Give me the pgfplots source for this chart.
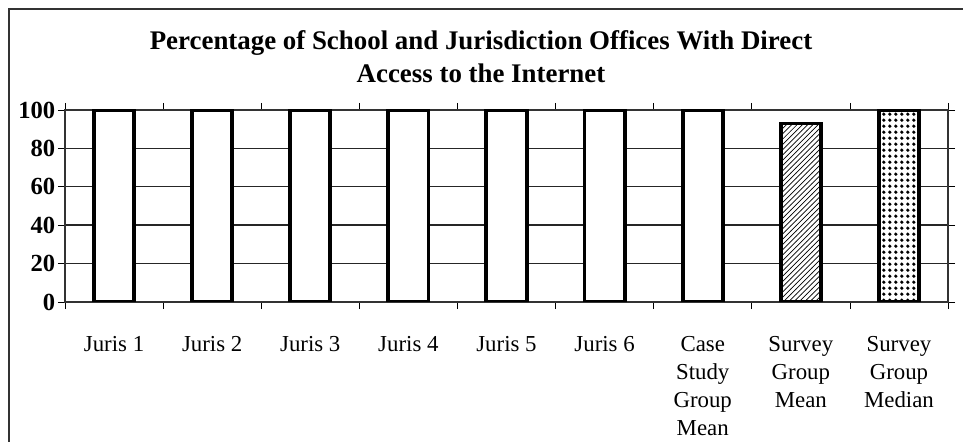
\documentclass[border=0pt]{standalone}
\usepackage{pgfplots}
\pgfplotsset{compat=1.18}
\usetikzlibrary{patterns}
\usepackage{fontspec}
\setmainfont{Liberation Serif}

\pgfdeclarepatternformonly{bigdots}{\pgfqpoint{0pt}{0pt}}{\pgfqpoint{3.3pt}{3.3pt}}{\pgfqpoint{3.3pt}{3.3pt}}%
{\pgfpathcircle{\pgfqpoint{1.65pt}{1.65pt}}{1.05pt}\pgfusepath{fill}}

\begin{document}
\begin{tikzpicture}
\useasboundingbox (0,0) rectangle (19.26,8.84);
% outer frame (left and top edges only visible)
\draw[line width=1.6pt, black!80] (0.18,0) -- (0.18,8.66) -- (19.26,8.66);

\node[font=\fontsize{15.3}{18.8}\selectfont\bfseries, align=center] at (9.62,7.71)
  {Percentage of School and Jurisdiction Offices With Direct\\Access to the Internet};

\begin{axis}[
  at={(1.3cm,2.8cm)}, anchor=south west,
  scale only axis,
  width=17.66cm, height=3.84cm,
  ybar, bar shift=0pt, bar width=0.41,
  xmin=-0.5, xmax=8.5,
  ymin=0, ymax=100,
  ytick={0,20,...,100},
  xtick={0,...,8},
  xticklabels={Juris 1, Juris 2, Juris 3, Juris 4, Juris 5, Juris 6,
    Case\\Study\\Group\\Mean, Survey\\Group\\Mean, Survey\\Group\\Median},
  minor xtick={-0.5,0.5,...,8.5},
  major x tick style={draw=none},
  minor x tick style={black, thin},
  tick align=outside,
  major tick length=4pt, minor tick length=4pt,
  ymajorgrids,
  grid style={black!85, line width=0.8pt},
  axis line style={black!80, line width=0.6pt},
  y tick style={black, thin},
  xticklabel style={font=\fontsize{13}{15.9}\selectfont, align=center, yshift=-12pt},
  yticklabel style={font=\fontsize{14}{16}\selectfont\bfseries, xshift=2pt},
  /pgf/number format/assume math mode=true,
]
\addplot[fill=white, draw=black, line width=2.2pt]
  coordinates {(0,100) (1,100) (2,100) (3,100) (4,100) (5,100) (6,100)};
\addplot[fill=white, draw=black, line width=2.2pt, postaction={pattern=north east lines}]
  coordinates {(7,93)};
\addplot[fill=white, draw=black, line width=2.2pt, postaction={pattern=bigdots}]
  coordinates {(8,100)};
\end{axis}
\end{tikzpicture}
\end{document}
